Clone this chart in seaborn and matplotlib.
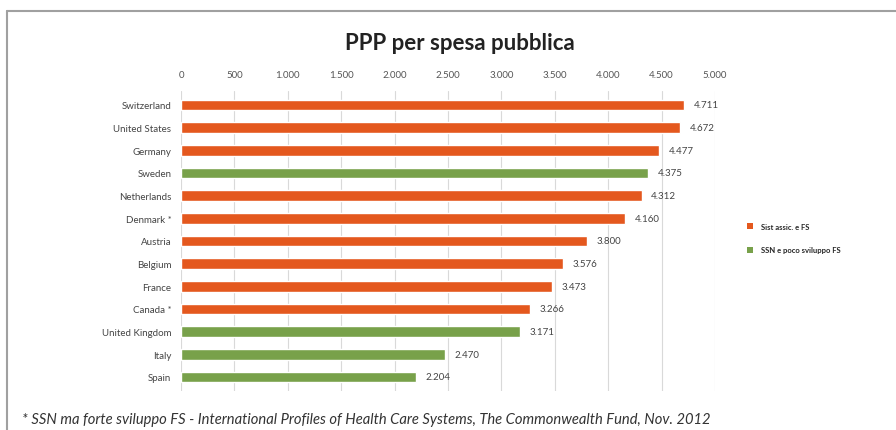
import matplotlib
matplotlib.use("Agg")
import matplotlib.pyplot as plt
import seaborn as sns
import pandas as pd
from matplotlib.lines import Line2D
from matplotlib.patches import Patch

countries = ["Switzerland", "United States", "Germany", "Sweden", "Netherlands",
             "Denmark *", "Austria", "Belgium", "France", "Canada *",
             "United Kingdom", "Italy", "Spain"]
values = [4711, 4672, 4477, 4375, 4312, 4160, 3800, 3576, 3473, 3266, 3171, 2470, 2204]
groups = ["Sist assic. e FS", "Sist assic. e FS", "Sist assic. e FS", "SSN e poco sviluppo FS",
          "Sist assic. e FS", "Sist assic. e FS", "Sist assic. e FS", "Sist assic. e FS",
          "Sist assic. e FS", "Sist assic. e FS", "SSN e poco sviluppo FS",
          "SSN e poco sviluppo FS", "SSN e poco sviluppo FS"]
group_names = ["Sist assic. e FS", "SSN e poco sviluppo FS"]
group_colors = ["#E4581E", "#78A14A"]
x_ticks = [0, 500, 1000, 1500, 2000, 2500, 3000, 3500, 4000, 4500, 5000]
title = "PPP per spesa pubblica"
footnote = "* SSN ma forte sviluppo FS - International Profiles of Health Care Systems, The Commonwealth Fund, Nov. 2012"

sns.set_theme(style="white")
plt.rcParams["font.family"] = ["Lato", "DejaVu Sans"]

df = pd.DataFrame({"country": countries, "value": values, "group": groups})

fig = plt.figure(figsize=(8.96, 4.31), dpi=100)
ax = fig.add_axes([181/896, 1 - 391.6/431, (715-181)/896, (391.6-92.4)/431])

sns.barplot(data=df, y="country", x="value", hue="group", hue_order=group_names,
            palette=dict(zip(group_names, group_colors)), dodge=False,
            width=0.46, orient="h", ax=ax, legend=False, saturation=1)

def fmt(v):
    return f"{v:,}".replace(",", ".")

for i, v in enumerate(values):
    ax.text(v + 90, i, fmt(v), va="center", ha="left", fontsize=7, color="#444444")

ax.set_xlim(0, 5000)
ax.set_ylim(12.6, -0.6)
ax.set_xticks(x_ticks)
ax.set_xticklabels([fmt(t) for t in x_ticks])
ax.xaxis.tick_top()
ax.tick_params(axis="x", labelsize=7, colors="#555555", length=0, pad=9)
ax.tick_params(axis="y", labelsize=7, colors="#444444", length=0, pad=7)
ax.set_xlabel("")
ax.set_ylabel("")
ax.grid(axis="x", color="#D9D9D9", linewidth=0.8)
ax.set_axisbelow(True)
for s in ax.spines.values():
    s.set_visible(False)

fig.text(460/896, 1 - 44/431, title, ha="center", va="center", fontsize=16,
         fontweight="bold", color="#222222")

handles = [Patch(facecolor=c, edgecolor="none") for c in group_colors]
fig.legend(handles, group_names, loc="center left", bbox_to_anchor=(740/896, 1 - 239/431),
           frameon=False, handlelength=0.8, handleheight=0.8,
           labelspacing=2.2, handletextpad=1.0, prop={"weight": "bold", "size": 5.5})

fig.text(22/896, 1 - 420/431, footnote, ha="left", va="center", fontsize=10.6,
         style="italic", color="#333333")

fig.add_artist(Line2D([7/896, 7/896], [0, 1 - 12/431], color="#A0A0A0", linewidth=1.5))
fig.add_artist(Line2D([7/896, 1], [1 - 12/431, 1 - 12/431], color="#A0A0A0", linewidth=1.5))

fig.savefig("out.png", dpi=100)
